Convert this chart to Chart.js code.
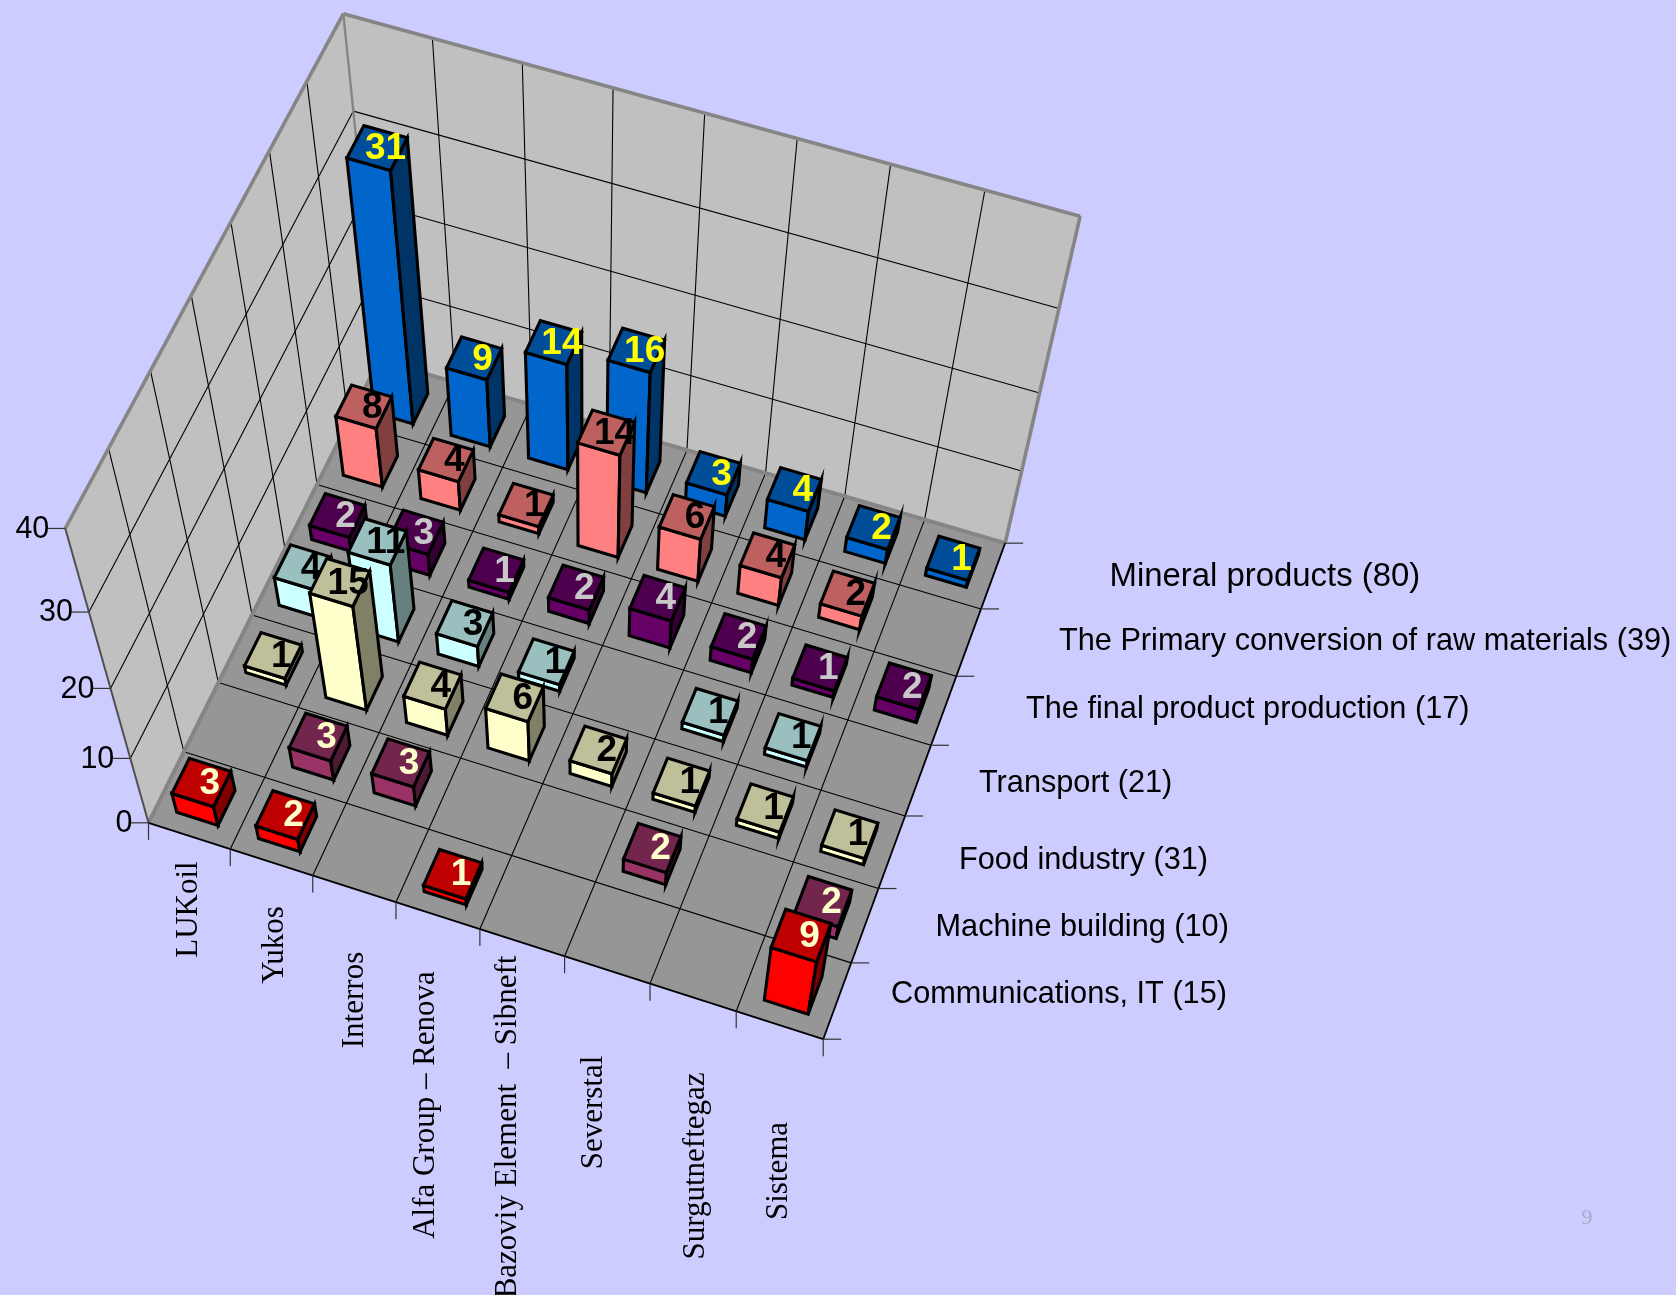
<!DOCTYPE html>
<html>
<head>
<meta charset="utf-8">
<style>html,body{margin:0;padding:0;background:#CCCCFF}canvas{display:block}</style>
<script src="https://cdn.jsdelivr.net/npm/chart.js@4/dist/chart.umd.min.js"></script>
</head>
<body>
<canvas id="chart" width="1676" height="1295"></canvas>
<script>
// Holdings of the largest business groups, by sector.
const companies = ["LUKoil", "Yukos", "Interros", "Alfa Group – Renova", "Bazoviy Element  – Sibneft", "Severstal", "Surgutneftegaz", "Sistema"];
const sectors = ["Mineral products (80)", "The Primary conversion of raw materials (39)", "The final product production (17)", "Transport (21)", "Food industry (31)", "Machine building (10)", "Communications, IT (15)"];
const valueTicks = [0, 10, 20, 30, 40];

const mineralProducts = [31, 9, 14, 16, 3, 4, 2, 1];
const primaryConversion = [8, 4, 1, 14, 6, 4, 2, 0];
const finalProduct = [2, 3, 1, 2, 4, 2, 1, 2];
const transport = [4, 11, 3, 1, 0, 1, 1, 0];
const foodIndustry = [1, 15, 4, 6, 2, 1, 1, 1];
const machineBuilding = [0, 3, 3, 0, 0, 2, 0, 2];
const communications = [3, 2, 0, 1, 0, 0, 0, 9];

const seriesValues = [mineralProducts, primaryConversion, finalProduct, transport, foodIndustry, machineBuilding, communications];

// Face colours: front, top, right side, and the colour of the value printed on top.
const seriesStyles = [
  { front: "#0066CC", top: "#004D99", side: "#003366", ink: "#FFFF00" },
  { front: "#FF8080", top: "#BF6060", side: "#804040", ink: "#000000" },
  { front: "#660066", top: "#4D004D", side: "#330033", ink: "#C8C8C8" },
  { front: "#CCFFFF", top: "#99BFBF", side: "#668080", ink: "#000000" },
  { front: "#FFFFCC", top: "#BFBF99", side: "#808066", ink: "#000000" },
  { front: "#993366", top: "#73264D", side: "#4D1A33", ink: "#FFFFCC" },
  { front: "#FF0000", top: "#BF0000", side: "#800000", ink: "#FFFFCC" }
];

// Camera calibration: box position (company, depth, value) -> canvas position.
const frameAnchors = [
  [0, 0, 0, 149.3, 822.7], [8, 0, 0, 823.7, 1039], [8, 7, 0, 1005, 542.7], [0, 7, 0, 380, 358.7],
  [0, 0, 40, 65.4, 528], [0, 7, 40, 342.9, 14.3], [8, 7, 40, 1080.7, 216.7],
  [0, 0, 10, 131, 759.3], [0, 0, 20, 110.7, 688.3], [0, 0, 30, 88.3, 611],
  [1, 0, 0, 231, 850], [2, 0, 0, 312.7, 875.7], [3, 0, 0, 395, 901.7], [4, 0, 0, 478.7, 928.3],
  [5, 0, 0, 563.7, 956], [6, 0, 0, 651.7, 984], [7, 0, 0, 736.3, 1011.7],
  [8, 1, 0, 851.7, 962.3], [8, 2, 0, 878.3, 888.3], [8, 3, 0, 905, 816.7], [8, 4, 0, 930.7, 745.7],
  [8, 5, 0, 955, 676.7], [8, 6, 0, 981.7, 608.3],
  [0, 1, 0, 183.3, 751.7], [0, 2, 0, 218.3, 681.7], [0, 3, 0, 251.7, 616.7], [0, 5, 0, 316.7, 485]
];

// Text placement beside the box.
const companyLabelPlaces = [[197.4, 909.5], [282.5, 945], [363, 1000], [434, 1105], [516, 1127], [602.3, 1112.5], [704, 1166], [786.5, 1171]];
const sectorLabelPlaces = [[1109.5, 586.3, 32.9], [1059, 650.3, 30.7], [1026, 718.2, 30.7], [979, 791.5, 30.7], [959, 869.3, 30.7], [935.5, 936.3, 30.7], [891, 1003, 30.7]];
// Column footprint inside its floor cell.
const barSpanCompany = [0.245, 0.75];
const barSpanDepth = [0.235, 0.725];
const labelShift = [7.5, 2.5];

function solveLinear(m, b) {
  const n = b.length;
  for (let i = 0; i < n; i++) {
    let p = i;
    for (let r = i + 1; r < n; r++) if (Math.abs(m[r][i]) > Math.abs(m[p][i])) p = r;
    [m[i], m[p]] = [m[p], m[i]]; [b[i], b[p]] = [b[p], b[i]];
    for (let r = i + 1; r < n; r++) {
      const f = m[r][i] / m[i][i];
      for (let c = i; c < n; c++) m[r][c] -= f * m[i][c];
      b[r] -= f * b[i];
    }
  }
  const x = new Array(n).fill(0);
  for (let i = n - 1; i >= 0; i--) {
    let s = b[i];
    for (let c = i + 1; c < n; c++) s -= m[i][c] * x[c];
    x[i] = s / m[i][i];
  }
  return x;
}

// Least-squares perspective camera (11 parameters) on unit box coordinates.
function fitCamera(anchors) {
  const rows = [], rhs = [];
  anchors.forEach(([c, r, v, px, py]) => {
    const X = c / 8, Y = r / 7, Z = v / 40, U = px / 1000, V = py / 1000;
    rows.push([X, Y, Z, 1, 0, 0, 0, 0, -U * X, -U * Y, -U * Z]); rhs.push(U);
    rows.push([0, 0, 0, 0, X, Y, Z, 1, -V * X, -V * Y, -V * Z]); rhs.push(V);
  });
  const N = Array.from({ length: 11 }, () => new Array(11).fill(0));
  const t = new Array(11).fill(0);
  rows.forEach((row, k) => {
    for (let i = 0; i < 11; i++) {
      t[i] += row[i] * rhs[k];
      for (let j = 0; j < 11; j++) N[i][j] += row[i] * row[j];
    }
  });
  return solveLinear(N, t);
}

const camera = fitCamera(frameAnchors);

const box3d = {
  id: "box3d",
  beforeDraw(chart) {
    const ctx = chart.ctx;
    ctx.save();
    ctx.fillStyle = "#CCCCFF";
    ctx.fillRect(0, 0, chart.width, chart.height);
    ctx.restore();
  },
  afterDatasetsDraw(chart) {
    const ctx = chart.ctx;
    const { company, depth, value } = chart.scales;
    const fracX = (s, v) => (s.getPixelForValue(v) - s.left) / s.width;
    const fracY = (s, v) => (s.bottom - s.getPixelForValue(v)) / s.height;
    const project = (c, r, v) => {
      const X = fracX(company, c), Y = fracX(depth, r), Z = fracY(value, v), p = camera;
      const w = p[8] * X + p[9] * Y + p[10] * Z + 1;
      return [1000 * (p[0] * X + p[1] * Y + p[2] * Z + p[3]) / w, 1000 * (p[4] * X + p[5] * Y + p[6] * Z + p[7]) / w];
    };
    const nCols = companies.length, nRows = sectors.length, vMax = valueTicks[valueTicks.length - 1];

    const poly = (pts, fill, stroke, width) => {
      ctx.beginPath();
      pts.forEach((p, i) => (i ? ctx.lineTo(p[0], p[1]) : ctx.moveTo(p[0], p[1])));
      ctx.closePath();
      if (fill) { ctx.fillStyle = fill; ctx.fill(); }
      if (stroke) { ctx.strokeStyle = stroke; ctx.lineWidth = width; ctx.stroke(); }
    };
    const seg = (a, b, color, width) => {
      ctx.beginPath(); ctx.moveTo(a[0], a[1]); ctx.lineTo(b[0], b[1]);
      ctx.strokeStyle = color; ctx.lineWidth = width; ctx.stroke();
    };

    ctx.save();
    ctx.lineJoin = "miter";
    ctx.miterLimit = 10;

    // Walls and floor
    const A = project(0, 0, 0), B = project(nCols, 0, 0), C = project(nCols, nRows, 0), D = project(0, nRows, 0);
    const E = project(0, 0, vMax), F = project(0, nRows, vMax), G = project(nCols, nRows, vMax);
    poly([A, D, F, E], "#C0C0C0");
    poly([D, C, G, F], "#C0C0C0");
    poly([A, B, C, D], "#969696");

    // Gridlines
    for (let c = 1; c < nCols; c++) {
      seg(project(c, 0, 0), project(c, nRows, 0), "#000", 1.1);
      seg(project(c, nRows, 0), project(c, nRows, vMax), "#000", 1.1);
    }
    for (let r = 1; r < nRows; r++) {
      seg(project(0, r, 0), project(nCols, r, 0), "#000", 1.1);
      seg(project(0, r, 0), project(0, r, vMax), "#000", 1.1);
    }
    valueTicks.slice(1, -1).forEach(v => {
      seg(project(0, 0, v), project(0, nRows, v), "#000", 1.1);
      seg(project(0, nRows, v), project(nCols, nRows, v), "#000", 1.1);
    });

    // Box edges
    seg(E, F, "#858585", 3.6); seg(F, G, "#858585", 3.6); seg(G, C, "#858585", 3.6);
    seg(D, F, "#858585", 2.4); seg(A, D, "#858585", 4); seg(D, C, "#858585", 4);
    seg(A, E, "#505050", 2);
    seg(A, B, "#000", 1.8); seg(B, C, "#000", 1.8);

    // Axis ticks and labels
    ctx.fillStyle = "#000";
    ctx.textBaseline = "middle";
    ctx.textAlign = "right";
    ctx.font = "30.5px 'Liberation Sans', Arial, sans-serif";
    valueTicks.forEach(v => {
      const p = project(0, 0, v);
      seg(p, [p[0] - 18, p[1]], "#333", 1.2);
      ctx.fillStyle = "#000";
      ctx.fillText(String(v), p[0] - 16, p[1] + 1);
    });
    for (let c = 0; c <= nCols; c++) {
      const p = project(c, 0, 0);
      seg(p, [p[0], p[1] + 17], "#333", 1.2);
    }
    for (let r = 0; r <= nRows; r++) {
      const p = project(nCols, r, 0);
      seg(p, [p[0] + 18, p[1]], "#333", 1.2);
    }

    // Company names run up the page below the front edge.
    ctx.fillStyle = "#000";
    ctx.textAlign = "center";
    ctx.textBaseline = "alphabetic";
    ctx.font = "31px 'Liberation Serif', 'Times New Roman', serif";
    companies.forEach((name, i) => {
      const [x, y] = companyLabelPlaces[i];
      ctx.save();
      ctx.translate(x, y);
      ctx.rotate(-Math.PI / 2);
      ctx.fillText(name, 0, 0);
      ctx.restore();
    });

    // Sector names to the right of the floor.
    ctx.textAlign = "left";
    sectors.forEach((name, i) => {
      const [x, y, size] = sectorLabelPlaces[i];
      ctx.font = size + "px 'Liberation Sans', Arial, sans-serif";
      ctx.fillText(name, x, y);
    });

    // Columns, painted from the back row to the front row.
    chart.data.datasets.forEach((ds, s) => {
      const r = nRows - 1 - s;
      const st = seriesStyles[s];
      ds.data.forEach(pt => {
        const h = pt.y, c = pt.x;
        if (!h) return;
        const c0 = c + barSpanCompany[0], c1 = c + barSpanCompany[1], r0 = r + barSpanDepth[0], r1 = r + barSpanDepth[1];
        poly([project(c0, r0, 0), project(c1, r0, 0), project(c1, r0, h), project(c0, r0, h)], st.front, "#000", 3.1);
        poly([project(c1, r0, 0), project(c1, r1, 0), project(c1, r1, h), project(c1, r0, h)], st.side, "#000", 3.1);
        poly([project(c0, r0, h), project(c1, r0, h), project(c1, r1, h), project(c0, r1, h)], st.top, "#000", 3.1);
      });
      // Values sit on the column tops, above every face of the row.
      ds.data.forEach(pt => {
        if (!pt.y) return;
        const t = project(pt.x + 0.5, r + 0.5, pt.y);
        ctx.fillStyle = st.ink;
        ctx.textAlign = "center";
        ctx.textBaseline = "middle";
        ctx.font = "bold 37px 'Liberation Sans', Arial, sans-serif";
        ctx.fillText(String(pt.y), t[0] + labelShift[0], t[1] + labelShift[1]);
      });
    });

    // Slide number
    ctx.fillStyle = "#ABABC8";
    ctx.textAlign = "center";
    ctx.textBaseline = "alphabetic";
    ctx.font = "22px 'Liberation Serif', 'Times New Roman', serif";
    ctx.fillText("9", 1587, 1224);
    ctx.restore();
  }
};

new Chart(document.getElementById("chart"), {
  type: "scatter",
  data: {
    datasets: sectors.map((name, i) => ({
      label: name,
      data: seriesValues[i].map((v, c) => ({ x: c, y: v })),
      xAxisID: "company",
      yAxisID: "value",
      pointRadius: 0,
      showLine: false
    }))
  },
  options: {
    responsive: false,
    animation: false,
    layout: { padding: 0 },
    plugins: { legend: { display: false }, title: { display: false }, tooltip: { enabled: false } },
    scales: {
      company: { type: "linear", axis: "x", min: 0, max: companies.length, display: false },
      depth: { type: "linear", axis: "x", min: 0, max: sectors.length, display: false },
      value: { type: "linear", axis: "y", min: valueTicks[0], max: valueTicks[valueTicks.length - 1], display: false }
    }
  },
  plugins: [box3d]
});
</script>
</body>
</html>
